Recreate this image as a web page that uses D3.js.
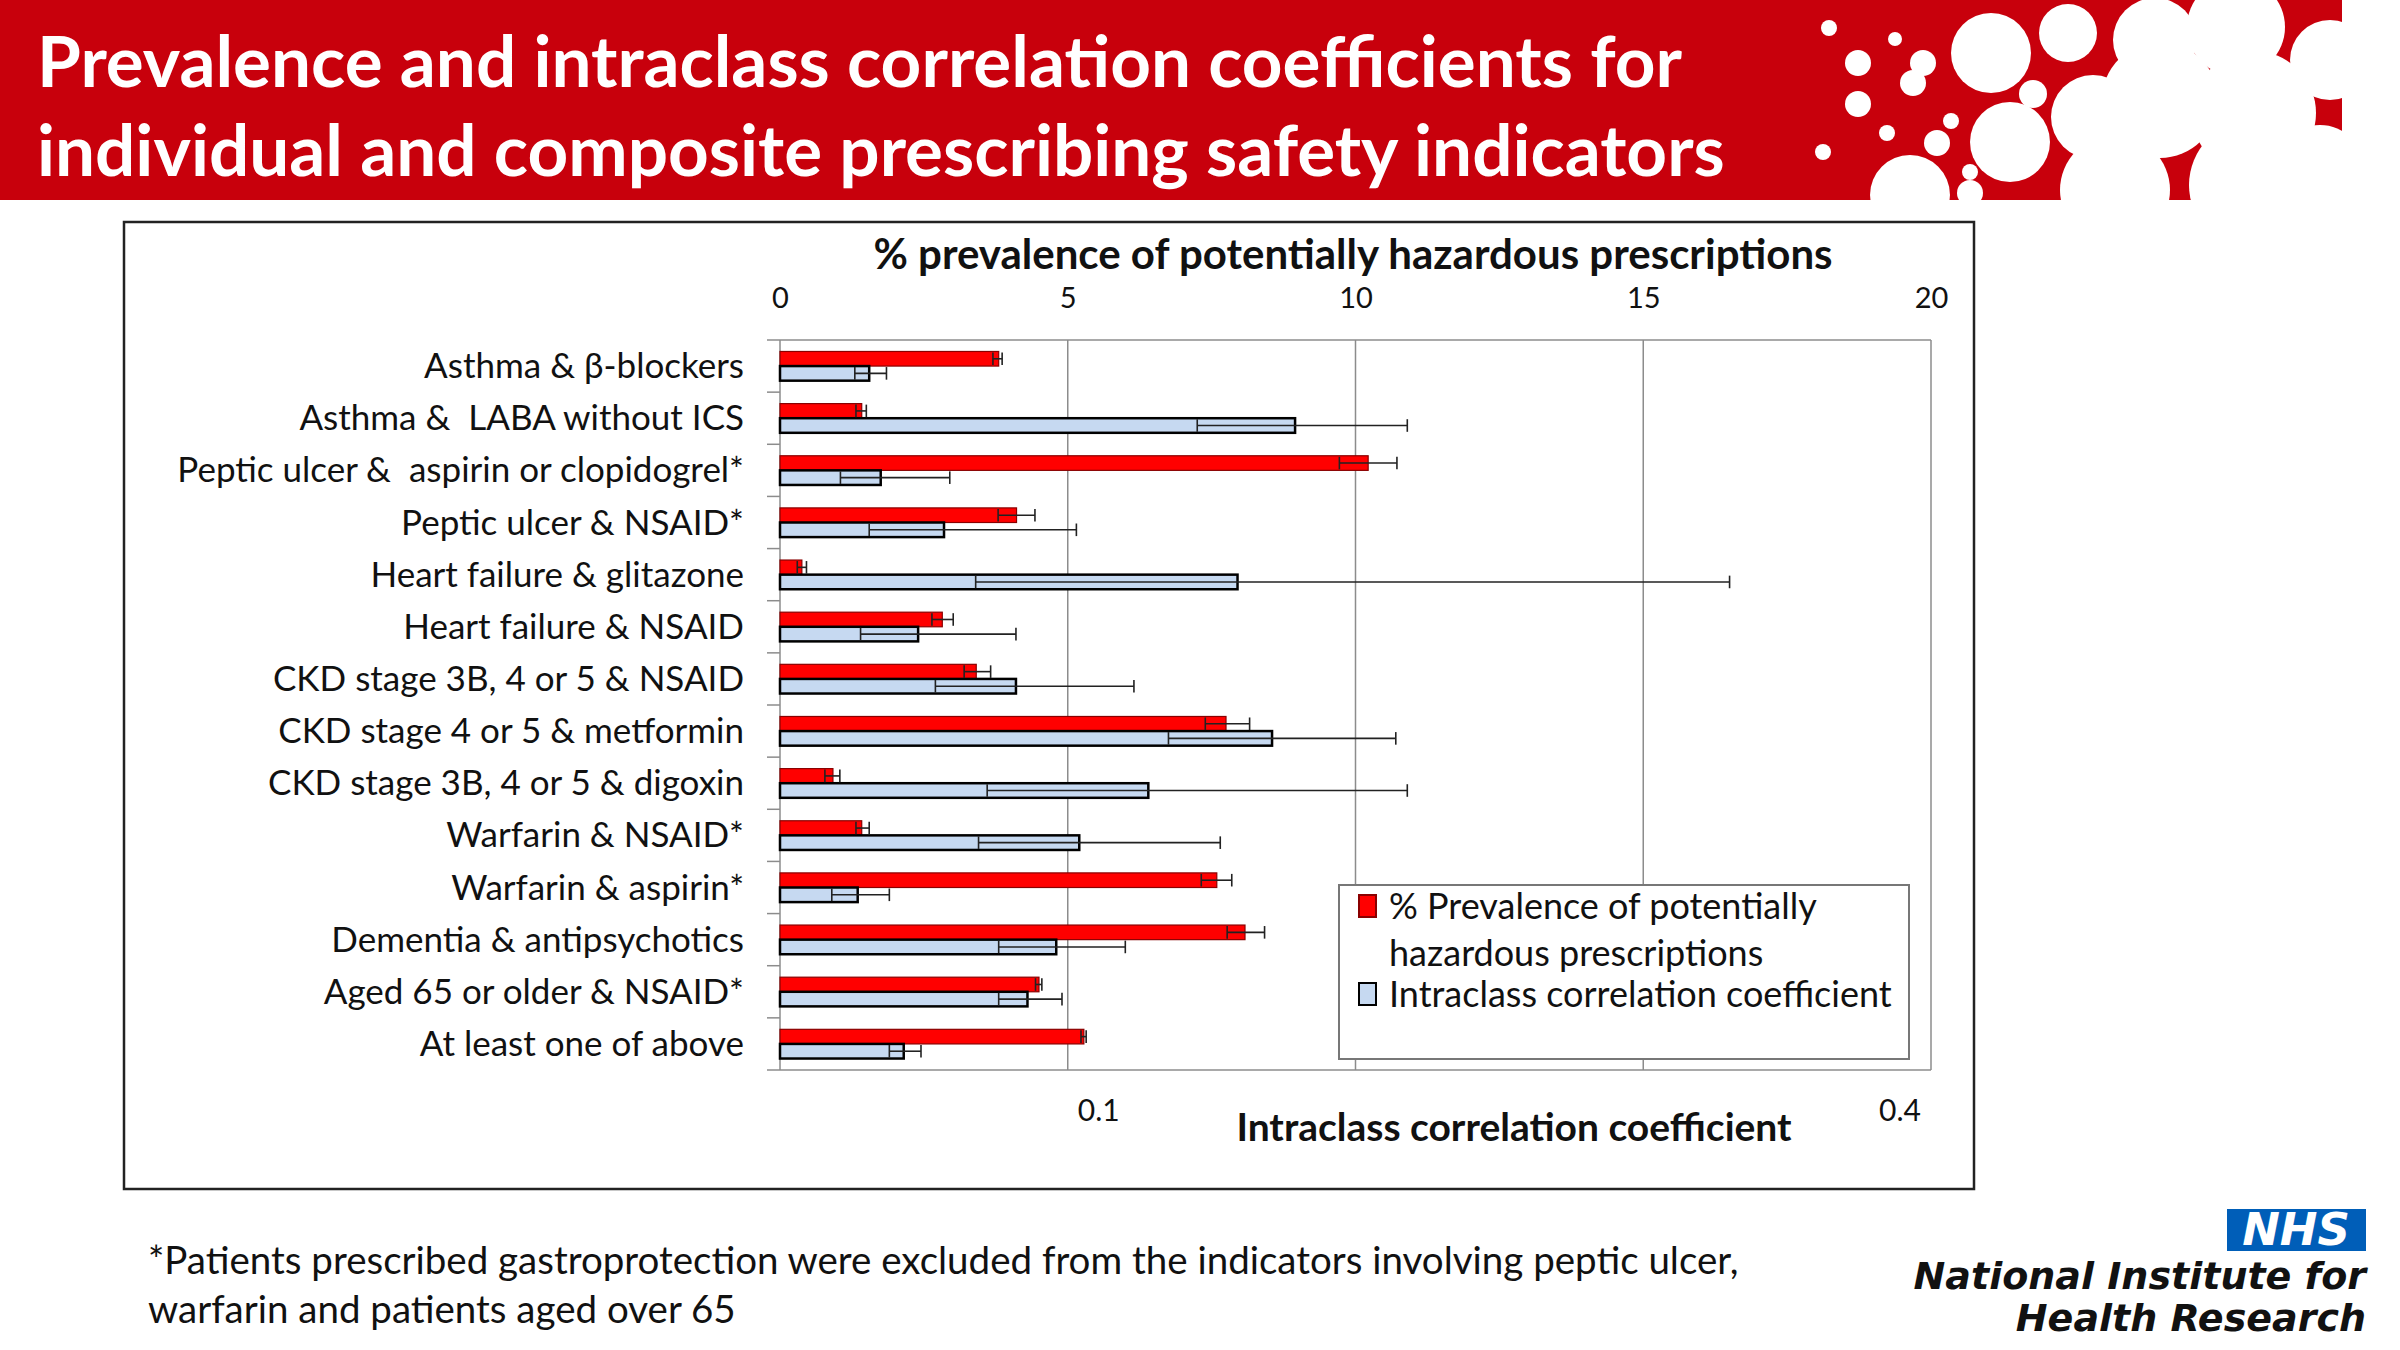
<!DOCTYPE html>
<html>
<head>
<meta charset="utf-8">
<script src="https://cdn.jsdelivr.net/npm/d3@7"></script>
<style>
  body { margin: 0; background: #fff; }
  svg { display: block; }
  text { font-family: Lato, "Open Sans", sans-serif; white-space: pre; }
</style>
</head>
<body>
<div id="chart"></div>
<script>
// indicators, top to bottom
const categories = [
  "Asthma & \u03B2-blockers",
  "Asthma &  LABA without ICS",
  "Peptic ulcer &  aspirin or clopidogrel*",
  "Peptic ulcer & NSAID*",
  "Heart failure & glitazone",
  "Heart failure & NSAID",
  "CKD stage 3B, 4 or 5 & NSAID",
  "CKD stage 4 or 5 & metformin",
  "CKD stage 3B, 4 or 5 & digoxin",
  "Warfarin & NSAID*",
  "Warfarin & aspirin*",
  "Dementia & antipsychotics",
  "Aged 65 or older & NSAID*",
  "At least one of above"
]

// % prevalence with 95% CI
const prevalence   = [3.80, 1.42, 10.22, 4.11, 0.38, 2.82, 3.41, 7.75, 0.92, 1.42, 7.59, 8.08, 4.50, 5.28]
const prevalenceLo = [3.70, 1.32,  9.72, 3.79, 0.30, 2.64, 3.20, 7.39, 0.78, 1.32, 7.32, 7.77, 4.44, 5.23]
const prevalenceHi = [3.86, 1.50, 10.72, 4.43, 0.46, 3.01, 3.66, 8.16, 1.04, 1.55, 7.85, 8.42, 4.55, 5.32]

// intraclass correlation coefficient with 95% CI
const icc   = [0.031, 0.179, 0.035, 0.057, 0.159, 0.048, 0.082, 0.171, 0.128, 0.104, 0.027, 0.096, 0.086, 0.043]
const iccLo = [0.026, 0.145, 0.021, 0.031, 0.068, 0.028, 0.054, 0.135, 0.072, 0.069, 0.018, 0.076, 0.076, 0.038]
const iccHi = [0.037, 0.218, 0.059, 0.103, 0.330, 0.082, 0.123, 0.214, 0.218, 0.153, 0.038, 0.120, 0.098, 0.049]

const prevTicks = [0, 5, 10, 15, 20]
const iccLabels = [0.1, 0.4]

const legendLabels = [["% Prevalence of potentially", "hazardous prescriptions"], ["Intraclass correlation coefficient"]]

// header decoration bubbles [x, y, r]
const bubbles = [
  [1829, 28, 8], [1895, 39, 7], [1858, 63, 13], [1923, 63, 13], [1913, 83, 13], [1858, 104, 13],
  [1823, 152, 8], [1887, 133, 8], [1951, 121, 8], [1937, 143, 13], [1970, 172, 8], [1970, 193, 13],
  [1910, 195, 40], [1991, 53, 40], [2068, 33, 29], [2033, 94, 14], [2010, 142, 40], [2093, 117, 42],
  [2155, 40, 42], [2160, 100, 58], [2115, 190, 55], [2236, 27, 49], [2254, 113, 62], [2254, 185, 65],
  [2330, 60, 40], [2320, 170, 45]
]

const W = 2400, H = 1350
const svg = d3.select("#chart").append("svg")
    .attr("width", W)
    .attr("height", H)

// ---- header band
svg.append("rect")
    .attr("x", 0).attr("y", 0)
    .attr("width", 2342).attr("height", 200)
    .style("fill", "#c8000c")

svg.append("g").selectAll("circle")
    .data(bubbles)
    .join("circle")
    .attr("cx", d => d[0])
    .attr("cy", d => d[1])
    .attr("r", d => d[2])
    .style("fill", "#fff")

svg.append("text")
    .attr("x", 37).attr("y", 87)
    .style("font-size", "71px").style("font-weight", "bold").style("fill", "#fff")
    .text("Prevalence and intraclass correlation coefficients for")
svg.append("text")
    .attr("x", 37).attr("y", 176)
    .style("font-size", "71px").style("font-weight", "bold").style("fill", "#fff")
    .text("individual and composite prescribing safety indicators")

// ---- chart frame
svg.append("rect")
    .attr("x", 124).attr("y", 222)
    .attr("width", 1850).attr("height", 967)
    .style("fill", "none").style("stroke", "#222").style("stroke-width", 2.5)

const plotLeft = 780, plotRight = 1931, plotTop = 340, plotBottom = 1070

const x = d3.scaleLinear().domain([0, 20]).range([plotLeft, plotRight])
const xIcc = d3.scaleLinear().domain([0, 0.4]).range([plotLeft, plotRight])

const y = d3.scaleBand()
    .domain(categories)
    .range([plotTop, plotBottom])
    .paddingInner(0.44)
    .paddingOuter(0.22)

const bh = y.bandwidth() / 2
const step = y.step()

// gridlines
svg.append("g").selectAll("line")
    .data(prevTicks)
    .join("line")
    .attr("x1", d => x(d)).attr("x2", d => x(d))
    .attr("y1", plotTop).attr("y2", plotBottom)
    .style("stroke", "#8c8c8c").style("stroke-width", 1.5)

// plot top & bottom lines
svg.append("g").selectAll("line")
    .data([plotTop, plotBottom])
    .join("line")
    .attr("x1", plotLeft).attr("x2", plotRight)
    .attr("y1", d => d).attr("y2", d => d)
    .style("stroke", "#8c8c8c").style("stroke-width", 1.5)

// category tick marks at row boundaries
svg.append("g").selectAll("line")
    .data(d3.range(categories.length + 1))
    .join("line")
    .attr("x1", plotLeft - 13).attr("x2", plotLeft)
    .attr("y1", i => plotTop + i * step).attr("y2", i => plotTop + i * step)
    .style("stroke", "#8c8c8c").style("stroke-width", 1.5)

// top axis labels
const topAxis = svg.append("g")
    .attr("transform", `translate(0,${298})`)
    .call(d3.axisTop(x).tickValues(prevTicks).tickSize(0).tickPadding(0))
topAxis.select(".domain").remove()
topAxis.selectAll("text")
    .attr("dy", "0.35em")
    .style("font-family", "Lato, sans-serif")
    .style("font-size", "29px")
    .style("fill", "#111")

svg.append("text")
    .attr("x", 1353).attr("y", 269)
    .attr("text-anchor", "middle")
    .style("font-size", "42px").style("font-weight", "bold").style("fill", "#111")
    .text("% prevalence of potentially hazardous prescriptions")

// category labels
svg.append("g").selectAll("text")
    .data(categories)
    .join("text")
    .attr("x", 744)
    .attr("y", d => y(d) + y.bandwidth() / 2 + 12)
    .attr("text-anchor", "end")
    .style("font-size", "35px")
    .style("fill", "#111")
    .text(d => d)

// bars
const rows = categories.map((c, i) => ({
  c, p: prevalence[i], pLo: prevalenceLo[i], pHi: prevalenceHi[i],
  icc: icc[i], iLo: iccLo[i], iHi: iccHi[i]
}))

svg.append("g").selectAll("rect")
    .data(rows)
    .join("rect")
    .attr("x", plotLeft)
    .attr("y", d => y(d.c))
    .attr("width", d => x(d.p) - plotLeft)
    .attr("height", bh)
    .style("fill", "#ff0000")
    .style("stroke", "#8a0000")
    .style("stroke-width", 1.2)

svg.append("g").selectAll("rect")
    .data(rows)
    .join("rect")
    .attr("x", plotLeft)
    .attr("y", d => y(d.c) + bh)
    .attr("width", d => xIcc(d.icc) - plotLeft)
    .attr("height", bh)
    .style("fill", "#c6d9f1")
    .style("stroke", "#000")
    .style("stroke-width", 2.5)

// error bars
function errorBars(data, scale, lo, hi, offset) {
  const g = svg.append("g").selectAll("g")
      .data(data)
      .join("g")
      .attr("transform", d => `translate(0,${y(d.c) + offset})`)
  g.append("line")
      .attr("x1", d => scale(d[lo])).attr("x2", d => scale(d[hi]))
      .attr("y1", 0).attr("y2", 0)
  g.append("line")
      .attr("x1", d => scale(d[lo])).attr("x2", d => scale(d[lo]))
      .attr("y1", -bh / 2 + 1).attr("y2", bh / 2 - 1)
  g.append("line")
      .attr("x1", d => scale(d[hi])).attr("x2", d => scale(d[hi]))
      .attr("y1", -bh / 2 + 1).attr("y2", bh / 2 - 1)
  g.selectAll("line").style("stroke", "#222").style("stroke-width", 1.6)
}
errorBars(rows, x, "pLo", "pHi", bh / 2)
errorBars(rows, xIcc, "iLo", "iHi", bh * 1.5)

// bottom ICC labels
svg.append("g").selectAll("text")
    .data(iccLabels)
    .join("text")
    .attr("x", (d, i) => xIcc(d) + (i === 0 ? 31 : -31))
    .attr("y", 1121)
    .attr("text-anchor", "middle")
    .style("font-size", "30px").style("fill", "#111")
    .text(d => d)

svg.append("text")
    .attr("x", 1514).attr("y", 1141)
    .attr("text-anchor", "middle")
    .style("font-size", "39px").style("font-weight", "bold").style("fill", "#111")
    .text("Intraclass correlation coefficient")

// legend
const legend = svg.append("g")
legend.append("rect")
    .attr("x", 1339).attr("y", 885)
    .attr("width", 570).attr("height", 174)
    .style("fill", "#fff").style("stroke", "#777").style("stroke-width", 2)

const legendRows = [
  { fill: "#ff0000", stroke: "#8a0000", lines: legendLabels[0], y: 906 },
  { fill: "#c6d9f1", stroke: "#000", lines: legendLabels[1], y: 994 }
]
legend.selectAll("rect.key")
    .data(legendRows)
    .join("rect")
    .attr("class", "key")
    .attr("x", 1359).attr("y", d => d.y - 11)
    .attr("width", 17).attr("height", 22)
    .style("fill", d => d.fill)
    .style("stroke", d => d.stroke)
    .style("stroke-width", 2)

legend.selectAll("text")
    .data(legendRows.flatMap(r => r.lines.map((t, k) => ({ t, y: r.y + k * 47 }))))
    .join("text")
    .attr("x", 1389)
    .attr("y", d => d.y + 13)
    .style("font-size", "36px").style("fill", "#111")
    .text(d => d.t)

// footnote
svg.append("text")
    .attr("x", 148).attr("y", 1274)
    .style("font-size", "38.5px").style("fill", "#111")
    .text("*Patients prescribed gastroprotection were excluded from the indicators involving peptic ulcer,")
svg.append("text")
    .attr("x", 148).attr("y", 1323)
    .style("font-size", "38.5px").style("fill", "#111")
    .text("warfarin and patients aged over 65")

// NIHR logo
svg.append("rect")
    .attr("x", 2227).attr("y", 1209)
    .attr("width", 139).attr("height", 42)
    .style("fill", "#005eb8")
svg.append("text")
    .attr("x", 2296).attr("y", 1245)
    .attr("text-anchor", "middle")
    .style("font-family", "'DejaVu Sans', sans-serif")
    .style("font-size", "45px").style("font-weight", "bold").style("font-style", "italic")
    .style("fill", "#fff")
    .text("NHS")
svg.append("g").selectAll("text")
    .data(["National Institute for", "Health Research"])
    .join("text")
    .attr("x", 2366)
    .attr("y", (d, i) => 1289 + i * 42)
    .attr("text-anchor", "end")
    .style("font-family", "'DejaVu Sans', sans-serif")
    .style("font-size", "38px").style("font-weight", "bold").style("font-style", "italic")
    .style("fill", "#111")
    .text(d => d)
</script>
</body>
</html>
